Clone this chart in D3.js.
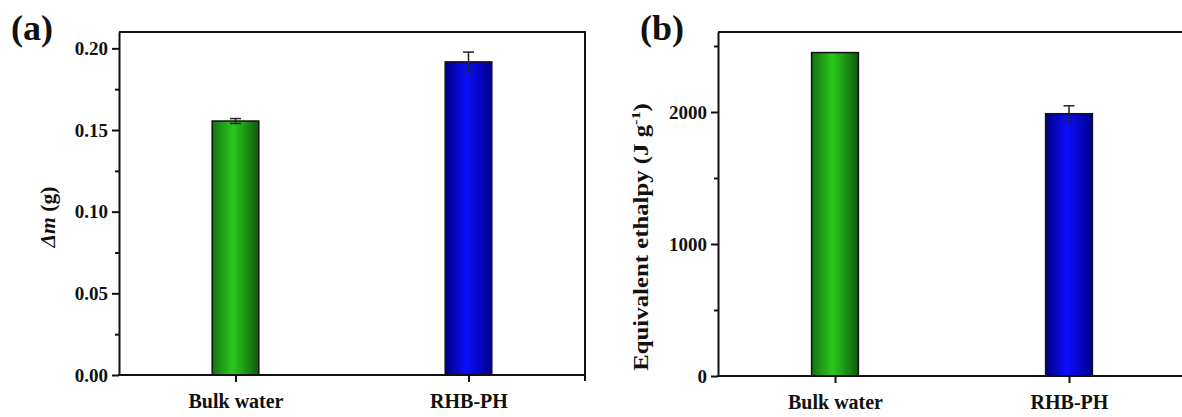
<!DOCTYPE html>
<html>
<head>
<meta charset="utf-8">
<script src="https://cdn.jsdelivr.net/npm/d3@7"></script>
<style>
  body { margin: 0; background: #fff; }
  svg text { font-family: "Liberation Serif", "Times New Roman", serif; font-weight: bold; fill: #111; }
  .axis path, .axis line { stroke: #111; stroke-width: 2; }
</style>
</head>
<body>
<div id="chart"></div>
<script>
const categories = ["Bulk water", "RHB-PH"];

const massValues = [0.1555, 0.1917];
const massErrors = [0.0015, 0.006];
const massTicks = [0, 0.05, 0.10, 0.15, 0.20];
const massMinorTicks = [0.025, 0.075, 0.125, 0.175];

const enthalpyValues = [2450, 1987];
const enthalpyErrors = [0, 60];
const enthalpyTicks = [0, 1000, 2000];
const enthalpyMinorTicks = [500, 1500, 2500];

const W = 1182, H = 417;

const svg = d3.select("#chart").append("svg")
	.attr("width", W)
	.attr("height", H);

const defs = svg.append("defs");
const gradients = [
	{id: "gGreen", stops: ["#137412", "#2cc81d", "#0c5c0c"]},
	{id: "gBlue", stops: ["#00007e", "#0c0cff", "#00008a"]}
];
gradients.forEach(g => {
	const lg = defs.append("linearGradient")
		.attr("id", g.id)
		.attr("x1", "0%").attr("x2", "100%")
		.attr("y1", "0%").attr("y2", "0%");
	lg.append("stop").attr("offset", "0%").attr("stop-color", g.stops[0]);
	lg.append("stop").attr("offset", "45%").attr("stop-color", g.stops[1]);
	lg.append("stop").attr("offset", "100%").attr("stop-color", g.stops[2]);
});
const fills = ["url(#gGreen)", "url(#gBlue)"];

function drawPanel(opt) {
	const g = svg.append("g");

	const x = d3.scalePoint()
		.domain(categories)
		.range([opt.left, opt.right])
		.padding(0.5);

	const y = d3.scaleLinear()
		.domain([0, opt.yMax])
		.range([opt.bottom, opt.top]);

	const barW = x.step() * 0.2;

	// frame top + right
	g.append("path")
		.attr("d", `M${opt.left},${opt.top}H${opt.right}V${opt.bottom + 6}`)
		.attr("fill", "none")
		.attr("stroke", "#111")
		.attr("stroke-width", 2);

	// bars
	g.selectAll(".bar")
		.data(opt.values)
		.enter().append("rect")
		.attr("class", "bar")
		.attr("x", (d, i) => x(categories[i]) - barW / 2)
		.attr("y", d => y(d))
		.attr("width", barW)
		.attr("height", d => y(0) - y(d))
		.attr("fill", (d, i) => fills[i])
		.attr("stroke", "#111")
		.attr("stroke-width", 1.5);

	// error bars
	const eb = g.selectAll(".err")
		.data(opt.values.map((v, i) => ({v: v, e: opt.errors[i], c: categories[i]})).filter(d => d.e > 0))
		.enter().append("g")
		.attr("class", "err")
		.attr("stroke", "#222")
		.attr("stroke-width", 1.5);
	eb.append("line")
		.attr("x1", d => x(d.c)).attr("x2", d => x(d.c))
		.attr("y1", d => y(d.v + d.e)).attr("y2", d => y(d.v - d.e));
	eb.append("line")
		.attr("x1", d => x(d.c) - 5.5).attr("x2", d => x(d.c) + 5.5)
		.attr("y1", d => y(d.v + d.e)).attr("y2", d => y(d.v + d.e));
	eb.append("line")
		.attr("x1", d => x(d.c) - 5.5).attr("x2", d => x(d.c) + 5.5)
		.attr("y1", d => y(d.v - d.e)).attr("y2", d => y(d.v - d.e));

	// y axis
	const yAxis = g.append("g")
		.attr("class", "axis")
		.attr("transform", `translate(${opt.left},0)`)
		.call(d3.axisLeft(y).tickValues(opt.ticks).tickFormat(opt.format).tickSize(7).tickSizeOuter(0).tickPadding(4));
	yAxis.selectAll("text").style("font-size", "19px");

	g.append("g")
		.attr("class", "axis")
		.attr("transform", `translate(${opt.left},0)`)
		.call(d3.axisLeft(y).tickValues(opt.minor).tickFormat("").tickSize(4).tickSizeOuter(0))
		.select(".domain").remove();

	// x axis
	const xAxis = g.append("g")
		.attr("class", "axis")
		.attr("transform", `translate(0,${opt.bottom})`)
		.call(d3.axisBottom(x).tickSize(7).tickSizeOuter(0).tickPadding(12));
	xAxis.select(".domain").attr("d", `M${opt.left - 1},0H${opt.right}`);
	xAxis.selectAll("text").style("font-size", "20px");

	// panel label
	g.append("text")
		.attr("x", opt.labelX)
		.attr("y", 40)
		.style("font-size", "36px")
		.text(opt.label);

	return g;
}

const pa = drawPanel({
	left: 119, right: 585, top: 32, bottom: 375,
	yMax: 0.21, values: massValues, errors: massErrors,
	ticks: massTicks, minor: massMinorTicks, format: d3.format(".2f"),
	label: "(a)", labelX: 11
});

const ta = pa.append("text")
	.attr("transform", "translate(55,217) rotate(-90) scale(1.08,1)")
	.attr("text-anchor", "middle")
	.style("font-size", "20px");
ta.append("tspan").style("font-style", "italic").text("\u0394m");
ta.append("tspan").text(" (g)");

const pb = drawPanel({
	left: 718, right: 1186, top: 32, bottom: 376,
	yMax: 2606, values: enthalpyValues, errors: enthalpyErrors,
	ticks: enthalpyTicks, minor: enthalpyMinorTicks, format: d3.format("d"),
	label: "(b)", labelX: 640
});

const tb = pb.append("text")
	.attr("transform", "translate(648,237) rotate(-90) scale(1.24,1)")
	.attr("text-anchor", "middle")
	.style("font-size", "20px");
tb.append("tspan").text("Equivalent ethalpy (J g");
tb.append("tspan").attr("dy", "-8").style("font-size", "13px").text("-1");
tb.append("tspan").attr("dy", "8").text(")");
</script>
</body>
</html>
